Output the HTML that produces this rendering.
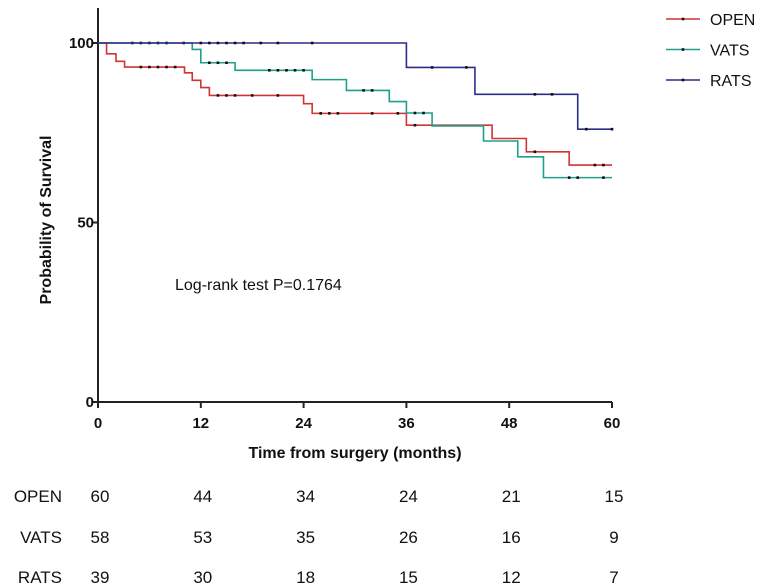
<!DOCTYPE html>
<html><head><meta charset="utf-8"><style>
body{margin:0;background:#fff;font-family:"Liberation Sans",Arial,sans-serif;}
svg{display:block}
</style></head><body>
<svg id="c" width="764" height="588" xmlns="http://www.w3.org/2000/svg"></svg>
<script>
const seriesNames=["OPEN","VATS","RATS"];
const seriesColors=["#d03434","#1fa08a","#2c2c88"];
const openTimes=[0,1,2.1,3.1,10.1,11,12,13,24,25,36,46,50,55];
const openSurv=[100,97,94.9,93.3,91.7,89.6,87.6,85.4,83.1,80.4,77.1,73.4,69.7,66];
const vatsTimes=[0,11,12,16,25,29,34,36,39,45,49,52];
const vatsSurv=[100,98.2,94.5,92.4,89.8,86.8,83.7,80.5,76.9,72.7,68.3,62.5];
const ratsTimes=[0,36,44,56];
const ratsSurv=[100,93.2,85.7,76];
const openCens=[5,6,7,8,9,14,15,16,18,21,26,27,28,32,35,37,51,58,59];
const vatsCens=[4,5,6,7,8,10,13,14,15,20,21,22,23,24,31,32,37,38,55,56,59];
const ratsCens=[12,13,14,15,16,17,19,21,25,39,43,51,53,57,60];
const xTicks=[0,12,24,36,48,60];
const yTicks=[0,50,100];
const riskOpen=[60,44,34,24,21,15];
const riskVats=[58,53,35,26,16,9];
const riskRats=[39,30,18,15,12,7];

const svg=document.getElementById('c');
const NS="http://www.w3.org/2000/svg";
const X0=98,X1=612,Y0=402,Y1=43;
const sx=t=>X0+(t/60)*(X1-X0);
const sy=v=>Y0-(v/100)*(Y0-Y1);
function mk(tag,attrs,parent){const e=document.createElementNS(NS,tag);for(const k in attrs)e.setAttribute(k,attrs[k]);(parent||svg).appendChild(e);return e;}

// axes
let ya=mk('line',{x1:X0,y1:8,x2:X0,y2:Y0,stroke:'#222','stroke-width':2});


let xa=mk('line',{x1:X0-1,y1:Y0,x2:X1,y2:Y0,stroke:'#222','stroke-width':2});


xTicks.forEach(t=>{
 let l=mk('line',{x1:sx(t),y1:Y0,x2:sx(t),y2:Y0+6,stroke:'#222','stroke-width':2});
 
 
 let tx=mk('text',{x:sx(t),y:Y0+26,'text-anchor':'middle','font-size':15,'font-weight':'bold',fill:'#111'});
 tx.textContent=t;
 
 
});
yTicks.forEach(v=>{
 let l=mk('line',{x1:X0-5,y1:sy(v),x2:X0,y2:sy(v),stroke:'#222','stroke-width':2});
 
 
 let tx=mk('text',{x:X0-4,y:sy(v)+5,'text-anchor':'end','font-size':15,'font-weight':'bold',fill:'#111'});
 tx.textContent=v;
 
 
});
let xt=mk('text',{x:355,y:458,'text-anchor':'middle','font-size':16,'font-weight':'bold',fill:'#111'});
xt.textContent='Time from surgery (months)';


let yt=mk('text',{x:51,y:220,'text-anchor':'middle','font-size':16,'font-weight':'bold',fill:'#111',transform:'rotate(-90 51 220)'});
yt.textContent='Probability of Survival';


let an=mk('text',{x:175,y:290,'font-size':16,fill:'#111'});
an.textContent='Log-rank test P=0.1764';



function survAt(times,surv,t){let v=surv[0];for(let i=0;i<times.length;i++){if(times[i]<=t)v=surv[i];}return v;}
const all=[[openTimes,openSurv,openCens],[vatsTimes,vatsSurv,vatsCens],[ratsTimes,ratsSurv,ratsCens]];
all.forEach((s,k)=>{
 const [T,S,C]=s;
 let d='M'+sx(T[0])+','+sy(S[0]);
 for(let i=1;i<T.length;i++){d+=' H'+sx(T[i])+' V'+sy(S[i]);}
 d+=' H'+sx(60);
 let p=mk('path',{d:d,fill:'none',stroke:seriesColors[k],'stroke-width':1.6});
 
 
 C.forEach(t=>{
  let c=mk('rect',{x:sx(t)-1.3,y:sy(survAt(T,S,t))-1.3,width:2.6,height:2.6,fill:'#111'});
  
  
 });
 // legend
 const ly=19+k*30.5;
 let ll=mk('line',{x1:666,y1:ly,x2:700,y2:ly,stroke:seriesColors[k],'stroke-width':1.6});
 
 
 let lm=mk('rect',{x:681.7,y:ly-1.3,width:2.6,height:2.6,fill:'#111'});
 
 
 let lt=mk('text',{x:710,y:ly+6,'font-size':16,fill:'#111'});
 lt.textContent=seriesNames[k];
 
 
});
// risk table
const risks=[riskOpen,riskVats,riskRats];
const rowY=[502,543,583];
risks.forEach((r,k)=>{
 let lab=mk('text',{x:62,y:rowY[k],'text-anchor':'end','font-size':17,fill:'#111'});
 lab.textContent=seriesNames[k];
 
 
 r.forEach((n,i)=>{
  let t=mk('text',{x:sx(xTicks[i])+2,y:rowY[k],'text-anchor':'middle','font-size':17,fill:'#111'});
  t.textContent=n;
  
  
 });
});
</script>
</body></html>
